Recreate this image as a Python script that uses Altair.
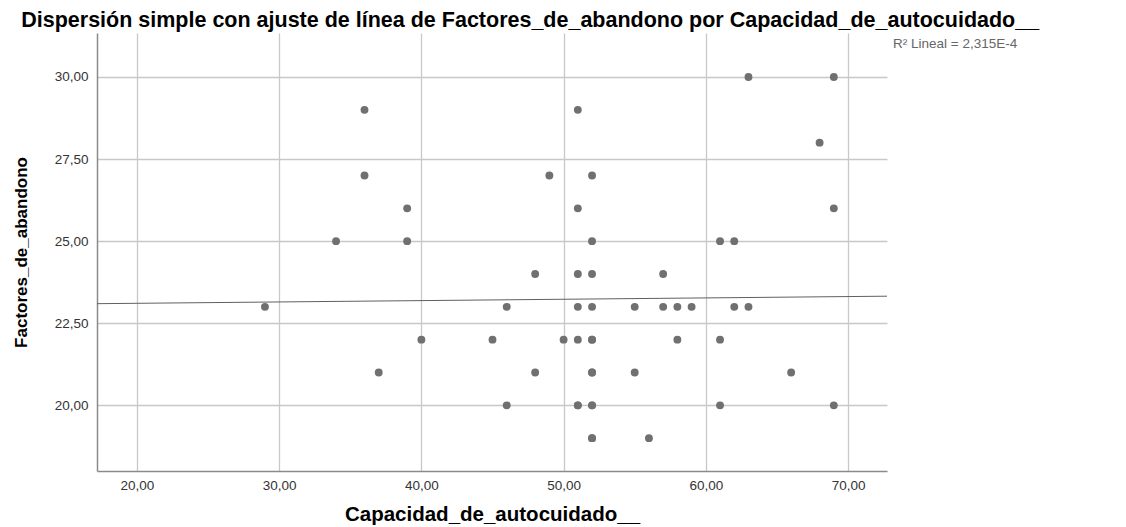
import altair as alt
import pandas as pd

# Capacidad_de_autocuidado__ (x) and Factores_de_abandono (y)
# (a few repeated cases overlap exactly on the scatter)
capacidad = [29, 34, 36, 36, 37, 39, 39, 40, 45, 46, 46, 48, 48, 49, 50,
             51, 51, 51, 51, 51, 51, 51,
             52, 52, 52, 52, 52, 52, 52, 52, 52, 52, 52, 52,
             55, 55, 56, 57, 57, 58, 58, 59,
             61, 61, 61, 62, 62, 63, 63, 66, 68, 69, 69, 69]
factores = [23, 25, 29, 27, 21, 26, 25, 22, 22, 23, 20, 24, 21, 27, 22,
            29, 26, 24, 23, 22, 20, 20,
            27, 25, 24, 23, 22, 21, 20, 19, 20, 21, 22, 19,
            23, 21, 19, 24, 23, 23, 22, 23,
            25, 22, 20, 25, 23, 30, 23, 21, 28, 30, 26, 20]

x_ticks = [20, 30, 40, 50, 60, 70]
y_ticks = [20, 22.5, 25, 27.5, 30]
x_domain = [17.19, 72.74]
y_domain = [18.0, 31.34]
r2_text = ["R\u00b2 Lineal = 2,315E-4"]

df = pd.DataFrame({"x": capacidad, "y": factores})
df_r2 = pd.DataFrame({"t": r2_text})

label_expr = "replace(format(datum.value, '.2f'), '.', ',')"

xscale = alt.Scale(domain=x_domain, nice=False, zero=False)
yscale = alt.Scale(domain=y_domain, nice=False, zero=False)

xaxis = alt.Axis(values=x_ticks, labelExpr=label_expr, grid=True,
                 gridColor="#c8c8c8", gridWidth=1.3, ticks=False,
                 domainColor="#8a8a8a", domainWidth=1.5,
                 labelFont="Liberation Sans", labelFontSize=13.5, labelColor="#333333",
                 labelPadding=7,
                 title="Capacidad_de_autocuidado__", titleFont="Liberation Sans",
                 titleFontSize=20.5, titleFontWeight="bold", titleColor="#000000",
                 titlePadding=13)
yaxis = alt.Axis(values=y_ticks, labelExpr=label_expr, grid=True,
                 gridColor="#c8c8c8", gridWidth=1.3, ticks=False,
                 domainColor="#8a8a8a", domainWidth=1.5,
                 labelFont="Liberation Sans", labelFontSize=13.5, labelColor="#333333",
                 labelPadding=9,
                 title="Factores_de_abandono", titleFont="Liberation Sans",
                 titleFontSize=17, titleFontWeight="bold", titleColor="#000000",
                 titlePadding=24)

points = alt.Chart(df).mark_circle(size=62, color="#707070", opacity=1).encode(
    x=alt.X("x:Q", scale=xscale, axis=xaxis),
    y=alt.Y("y:Q", scale=yscale, axis=yaxis),
)

fit = alt.Chart(df).transform_regression(
    "x", "y", extent=x_domain
).mark_line(color="#606060", strokeWidth=1).encode(
    x=alt.X("x:Q", scale=xscale),
    y=alt.Y("y:Q", scale=yscale),
)

r2 = alt.Chart(df_r2).mark_text(
    align="left", baseline="middle", font="Liberation Sans",
    fontSize=13.5, color="#666666"
).encode(
    text="t:N",
    x=alt.value(796),
    y=alt.value(11),
)

chart = alt.layer(fit, points, r2).properties(
    width=790,
    height=438,
    autosize=alt.AutoSizeParams(type="none"),
    padding={"left": 89, "top": 25, "right": 229, "bottom": 55},
    title=alt.Title(
        "Dispersi\u00f3n simple con ajuste de l\u00ednea de Factores_de_abandono por Capacidad_de_autocuidado__",
        font="Liberation Sans", fontSize=21.5, fontWeight="bold",
        color="#000000", anchor="start", frame="bounds", dx=9, offset=2,
    ),
).configure_view(stroke=None)

chart.save("out.html", embed_options={"renderer": "svg", "actions": False})
